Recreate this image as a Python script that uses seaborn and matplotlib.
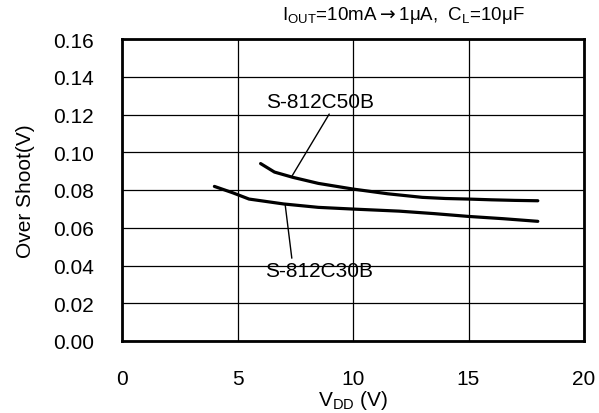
import matplotlib
matplotlib.use("Agg")
import matplotlib.pyplot as plt
import seaborn as sns
import pandas as pd

# Data
vdd_50b = [6.0, 6.6, 7.4, 8.5, 10.0, 11.5, 13.0, 14.0, 15.0, 16.0, 17.0, 18.0]
os_50b = [0.094, 0.0895, 0.0867, 0.0835, 0.0805, 0.0780, 0.0761, 0.0755, 0.0752, 0.0748, 0.0745, 0.0743]
vdd_30b = [4.0, 4.8, 5.5, 7.0, 8.5, 10.0, 12.0, 13.5, 15.0, 16.5, 18.0]
os_30b = [0.0819, 0.0785, 0.0752, 0.0726, 0.0708, 0.0699, 0.0688, 0.0675, 0.0660, 0.0648, 0.0634]
series_names = ["S-812C50B", "S-812C30B"]
x_ticks = [0, 5, 10, 15, 20]
y_ticks = [0.00, 0.02, 0.04, 0.06, 0.08, 0.10, 0.12, 0.14, 0.16]

df = pd.concat([
    pd.DataFrame({"VDD": vdd_50b, "OS": os_50b, "dev": series_names[0]}),
    pd.DataFrame({"VDD": vdd_30b, "OS": os_30b, "dev": series_names[1]}),
])

sns.set_theme(style="white")
plt.rcParams['font.family'] = ['Liberation Sans', 'DejaVu Sans']
for k in ["text.color", "axes.labelcolor", "xtick.color", "ytick.color"]:
    plt.rcParams[k] = "black"

fig = plt.figure(figsize=(5.99, 4.14), dpi=100)
ax = fig.add_axes([122/599, 1 - 342/414, (584-122)/599, (342-40)/414])

sns.lineplot(data=df, x="VDD", y="OS", hue="dev", palette=["black", "black"],
             linewidth=2.3, legend=False, ax=ax, sort=True)

ax.set_xlim(0, 20)
ax.set_ylim(0, 0.16)
ax.set_xticks(x_ticks)
ax.set_yticks(y_ticks)
ax.set_xticklabels([str(t) for t in x_ticks], fontsize=15)
ax.set_yticklabels([f"{t:.2f}" for t in y_ticks], fontsize=15)
ax.tick_params(axis='y', length=0, pad=20)
ax.tick_params(axis='x', length=0, pad=20)
ax.grid(True, color="black", linewidth=0.9)
for s in ax.spines.values():
    s.set_color("black")
    s.set_linewidth(2)
    s.set_visible(True)

ax.set_xlabel(r"V$_{\mathregular{DD}}$ (V)", fontsize=15, labelpad=0)
ax.set_ylabel("Over Shoot(V)", fontsize=15, labelpad=13)

# Annotations
ax.annotate(series_names[0], xy=(7.36, 0.0874), xytext=(6.25, 0.127),
            fontsize=15, ha="left", va="center",
            arrowprops=dict(arrowstyle="-", color="black", lw=1.0,
                            shrinkA=0, shrinkB=0, relpos=(0.6, 0.0)))
ax.annotate(series_names[1], xy=(7.06, 0.0726), xytext=(6.2, 0.0371),
            fontsize=15, ha="left", va="center",
            arrowprops=dict(arrowstyle="-", color="black", lw=1.0,
                            shrinkA=0, shrinkB=0, relpos=(0.25, 1.0)))

fig.text(282/599, 1 - 16/414,
         r"I$_{\mathregular{OUT}}$=10mA$\rightarrow$1$\mathregular{\mu}$A,  C$_{\mathregular{L}}$=10$\mathregular{\mu}$F",
         fontsize=13.5, ha="left", va="center")

fig.savefig("out.png", dpi=100)
